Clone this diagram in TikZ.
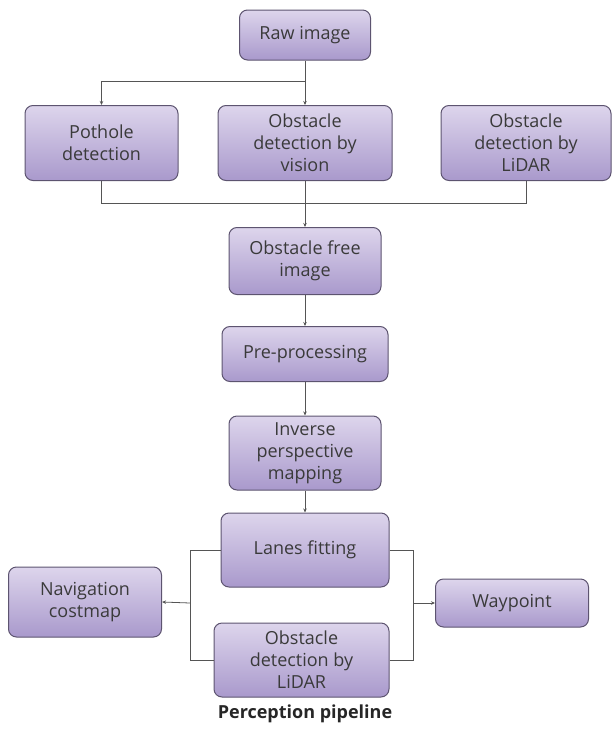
\documentclass[tikz,border=0pt]{standalone}
\usepackage{fontspec}
\setmainfont{Open Sans}
\usetikzlibrary{arrows.meta}
\definecolor{boxtop}{HTML}{DDD5EC}
\definecolor{boxbot}{HTML}{A999CC}
\definecolor{boxedge}{HTML}{5D5470}
\definecolor{txt}{HTML}{3A3A3A}
\definecolor{lin}{HTML}{555555}
\tikzset{
  box/.style={draw=boxedge, line width=1pt, rounded corners=8pt, top color=boxtop, bottom color=boxbot,
    align=center, text=txt, font=\fontsize{18}{22}\selectfont, inner sep=0pt},
  wire/.style={draw=lin, line width=0.8pt},
  arr/.style={wire, -{Stealth[length=4pt,width=3.5pt]}},
}
\begin{document}
\begin{tikzpicture}[x=1pt,y=-1pt]
\useasboundingbox (0,0) rectangle (612,731);
\node[box, minimum width=131pt, minimum height=50pt] (raw) at (305,35) {Raw image};
\node[box, minimum width=153pt, minimum height=75pt] (pothole) at (101.5,143) {Pothole\\detection};
\node[box, minimum width=174pt, minimum height=75pt] (vision) at (305,143) {Obstacle\\detection by\\vision};
\node[box, minimum width=170pt, minimum height=75pt] (lidarA) at (526,143) {Obstacle\\detection by\\LiDAR};
\node[box, minimum width=152pt, minimum height=67pt] (free) at (305,261) {Obstacle free\\image};
\node[box, minimum width=166pt, minimum height=55pt] (pre) at (305,354) {Pre-processing};
\node[box, minimum width=152pt, minimum height=74pt] (inv) at (305,453) {Inverse\\perspective\\mapping};
\node[box, minimum width=168pt, minimum height=74pt] (lanes) at (305,550) {Lanes fitting};
\node[box, minimum width=153pt, minimum height=70pt] (nav) at (85,602) {Navigation\\costmap};
\node[box, minimum width=153pt, minimum height=48pt] (way) at (512,603) {Waypoint};
\node[box, minimum width=175pt, minimum height=74pt] (lidarB) at (301.5,660) {Obstacle\\detection by\\LiDAR};
\node[font=\bfseries\fontsize{18}{22}\selectfont, text=black!85] (title) at (305,714) {Perception pipeline};
\coordinate (br) at (305,81);
\coordinate (mg) at (305,203);
\coordinate (lb) at (190,603);
\coordinate (rb) at (413,603);
\draw[wire] (raw.south) -- (br);
\draw[arr] (br) -| (pothole.north);
\draw[arr] (br) -- (vision.north);
\draw[wire] (pothole.south) |- (mg);
\draw[wire] (lidarA.south) |- (mg);
\draw[arr] (vision.south) -- (free.north);
\draw[arr] (free.south) -- (pre.north);
\draw[arr] (pre.south) -- (inv.north);
\draw[arr] (inv.south) -- (lanes.north);
\draw[wire] (lanes.west) -| (lb);
\draw[wire] (lidarB.west) -| (lb);
\draw[arr] (lb) -- (nav.east);
\draw[wire] (lanes.east) -| (rb);
\draw[wire] (lidarB.east) -| (rb);
\draw[arr] (rb) -- (way.west);
\end{tikzpicture}
\end{document}
